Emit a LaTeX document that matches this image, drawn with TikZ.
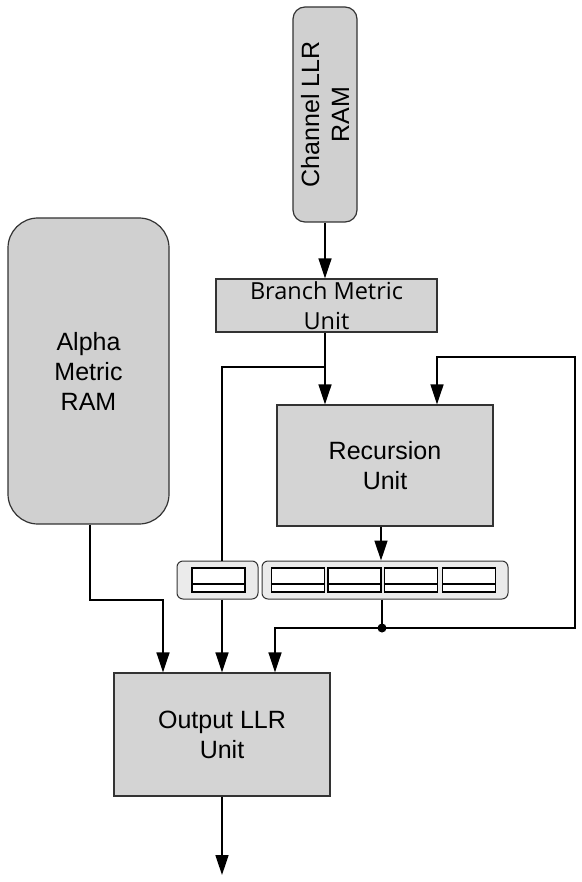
\documentclass[tikz,border=0pt]{standalone}
\usepackage{fontspec}
\setmainfont{Liberation Sans}
\newfontfamily\bmfont{Open Sans}
\usetikzlibrary{arrows.meta}
\definecolor{boxfill}{HTML}{D4D4D4}
\definecolor{ramfill}{HTML}{D0D0D0}
\definecolor{barfill}{HTML}{EBEBEB}
\definecolor{edge}{HTML}{333333}
\begin{document}
\begin{tikzpicture}[x=1pt,y=-1pt,
  blk/.style={draw=edge,line width=1.2pt,fill=boxfill,inner sep=0pt,align=center,font=\fontsize{25}{30}\selectfont},
  ram/.style={blk,fill=ramfill},
  regbar/.style={draw=edge,line width=1pt,fill=barfill,rounded corners=6pt,inner sep=0pt},
  cell/.style={draw=black,line width=1.2pt,fill=white,inner sep=0pt,minimum width=53pt,minimum height=24pt},
  wire/.style={line width=1.5pt,black},
  arr/.style={wire,-{Triangle[length=20pt,width=13pt]}},
  dotc/.style={circle,fill=black,inner sep=0pt,minimum size=9pt}]
\useasboundingbox (0,0) rectangle (581,882);
% blocks
\node[ram,rounded corners=12pt,rotate=90,minimum width=215pt,minimum height=64pt] (ch) at (325,114.5) {Channel LLR\\RAM};
\node[ram,rounded corners=30pt,minimum width=161pt,minimum height=306pt] (al) at (88.5,371) {Alpha\\Metric\\RAM};
\node[blk,minimum width=221pt,minimum height=53pt,font=\bmfont\fontsize{23.5}{30}\selectfont] (bm) at (326.5,305.5) {Branch Metric\\Unit};
\node[blk,minimum width=216pt,minimum height=121pt] (rec) at (385,465.5) {Recursion\\Unit};
\node[blk,minimum width=216pt,minimum height=123pt] (out) at (222,734.5) {Output LLR\\Unit};
% register bars
\node[regbar,minimum width=81pt,minimum height=38pt] (sb) at (217.5,580) {};
\node[regbar,minimum width=246pt,minimum height=38pt] (bb) at (385,580) {};
\foreach \n/\x in {s0/218.5,b1/298,b2/354.5,b3/411,b4/469}{
  \node[cell] (\n) at (\x,580) {};
  \draw[line width=1.2pt] (\n.west |- 0,584) -- (\n.east |- 0,584);
}
% coordinates
\coordinate (j1) at (325,367);
\coordinate (c1) at (222,367);
\coordinate (dot) at (382,628);
\coordinate (fr) at (575,628);
\coordinate (ft) at (575,357);
\coordinate (fl) at (437,357);
\coordinate (a1) at (90,600);
\coordinate (a2) at (163,600);
\coordinate (oend) at (222,875);
% connectors
\draw[arr] (ch.west) -- (ch.west |- bm.north);
\draw[arr] (bm.south -| j1) -- (rec.north -| j1);
\draw[wire] (j1) -- (c1) -- (c1 |- sb.north);
\draw[arr] (c1 |- sb.south) -- (out.north -| c1);
\draw[arr] (rec.south -| 381,0) -- (bb.north -| 381,0);
\draw[wire] (bb.south -| dot) -- (dot);
\draw[arr] (dot) -- (fr) -- (ft) -- (fl) -- (rec.north -| fl);
\draw[arr] (dot) -| (out.north -| 275,0);
\draw[arr] (al.south -| a1) -- (a1) -- (a2) -- (out.north -| a2);
\draw[arr] (out.south -| oend) -- (oend);
\node[dotc] (dn) at (dot) {};
\end{tikzpicture}
\end{document}
